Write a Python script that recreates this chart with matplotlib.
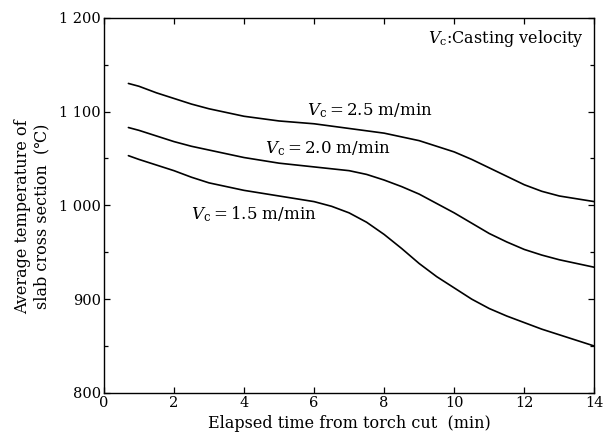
import matplotlib
matplotlib.use("Agg")
import matplotlib.pyplot as plt

plt.rcParams['font.family'] = ['DejaVu Serif']
plt.rcParams['mathtext.fontset'] = 'dejavuserif'

# Elapsed time after torch cut (min) and average slab temperature (deg C)
time_25 = [0.7, 1.0, 1.5, 2.0, 2.5, 3.0, 4.0, 5.0, 6.0, 7.0, 8.0, 9.0, 10.0, 10.5, 11.0, 11.5, 12.0, 12.5, 13.0, 13.5, 14.0]
temp_25 = [1130, 1127, 1120, 1114, 1108, 1103, 1095, 1090, 1087, 1082, 1077, 1069, 1057, 1049, 1040, 1031, 1022, 1015, 1010, 1007, 1004]

time_20 = [0.7, 1.0, 1.5, 2.0, 2.5, 3.0, 4.0, 5.0, 6.0, 7.0, 7.5, 8.0, 8.5, 9.0, 9.5, 10.0, 10.5, 11.0, 11.5, 12.0, 12.5, 13.0, 13.5, 14.0]
temp_20 = [1083, 1080, 1074, 1068, 1063, 1059, 1051, 1045, 1041, 1037, 1033, 1027, 1020, 1012, 1002, 992, 981, 970, 961, 953, 947, 942, 938, 934]

time_15 = [0.7, 1.0, 1.5, 2.0, 2.5, 3.0, 4.0, 5.0, 5.5, 6.0, 6.5, 7.0, 7.5, 8.0, 8.5, 9.0, 9.5, 10.0, 10.5, 11.0, 11.5, 12.0, 12.5, 13.0, 13.5, 14.0]
temp_15 = [1053, 1049, 1043, 1037, 1030, 1024, 1016, 1010, 1007, 1004, 999, 992, 982, 969, 954, 938, 924, 912, 900, 890, 882, 875, 868, 862, 856, 850]

x_ticks = [0, 2, 4, 6, 8, 10, 12, 14]
y_ticks = [800, 900, 1000, 1100, 1200]
y_tick_labels = ["800", "900", "1 000", "1 100", "1 200"]

fig = plt.figure(figsize=(6.04, 4.45), dpi=100)
ax = fig.add_axes([0.172, 0.117, 0.812, 0.843])

for t, v in [(time_25, temp_25), (time_20, temp_20), (time_15, temp_15)]:
    ax.plot(t, v, color='black', linewidth=1.2, solid_capstyle='round', solid_joinstyle='round')

ax.set_xlim(0, 14)
ax.set_ylim(800, 1200)
ax.set_xticks(x_ticks)
ax.set_yticks(y_ticks)
ax.set_yticklabels(y_tick_labels)
ax.set_yticks([850, 950, 1050, 1150], minor=True)
ax.tick_params(axis='both', which='both', direction='in', top=True, right=True,
               length=4, width=0.9, labelsize=10.5, pad=2)
ax.tick_params(axis='y', which='minor', length=3)
for s in ax.spines.values():
    s.set_linewidth(1.0)

ax.set_xlabel("Elapsed time from torch cut  (min)", fontsize=11.5, labelpad=4)
ax.set_ylabel("Average temperature of\nslab cross section  (\u2103)", fontsize=11.5,
              labelpad=8, linespacing=1.15)
ax.yaxis.set_label_coords(-0.11, 0.47)

ax.text(13.7, 1178, r"$V_{\rm c}$:Casting velocity", fontsize=11.5, ha='right', va='center')
ax.text(5.8, 1101, r"$V_{\rm c}=2.5\ \rm m/min$", fontsize=12, ha='left', va='center')
ax.text(4.6, 1060, r"$V_{\rm c}=2.0\ \rm m/min$", fontsize=12, ha='left', va='center')
ax.text(2.5, 991, r"$V_{\rm c}=1.5\ \rm m/min$", fontsize=12, ha='left', va='center')

fig.savefig("out.png", dpi=100)
